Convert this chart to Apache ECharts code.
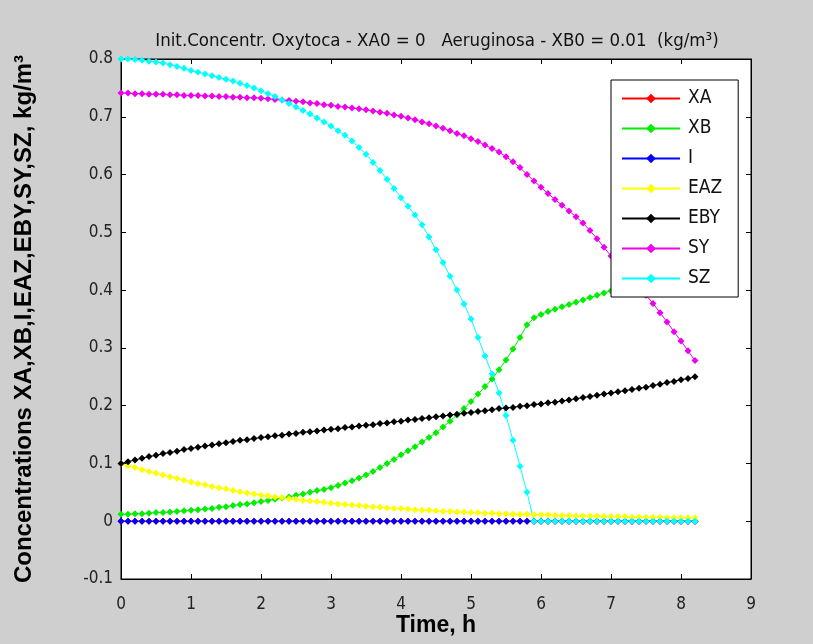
<!DOCTYPE html>
<html>
<head>
<meta charset="utf-8">
<title>Concentrations</title>
<script src="https://cdn.jsdelivr.net/npm/echarts@6/dist/echarts.min.js"></script>
<style>
  html, body { margin: 0; padding: 0; background: #cfcfcf; }
  #chart { width: 813px; height: 644px; }
</style>
</head>
<body>
<div id="chart"></div>
<script>
var times = [
  0.0, 0.1, 0.2, 0.3, 0.4, 0.5, 0.6, 0.7, 0.8, 0.9,
  1.0, 1.1, 1.2, 1.3, 1.4, 1.5, 1.6, 1.7, 1.8, 1.9,
  2.0, 2.1, 2.2, 2.3, 2.4, 2.5, 2.6, 2.7, 2.8, 2.9,
  3.0, 3.1, 3.2, 3.3, 3.4, 3.5, 3.6, 3.7, 3.8, 3.9,
  4.0, 4.1, 4.2, 4.3, 4.4, 4.5, 4.6, 4.7, 4.8, 4.9,
  5.0, 5.1, 5.2, 5.3, 5.4, 5.5, 5.6, 5.7, 5.8, 5.9,
  6.0, 6.1, 6.2, 6.3, 6.4, 6.5, 6.6, 6.7, 6.8, 6.9,
  7.0, 7.1, 7.2, 7.3, 7.4, 7.5, 7.6, 7.7, 7.8, 7.9,
  8.0, 8.1, 8.2
]

var xa = [
  0, 0, 0, 0, 0, 0, 0, 0, 0, 0,
  0, 0, 0, 0, 0, 0, 0, 0, 0, 0,
  0, 0, 0, 0, 0, 0, 0, 0, 0, 0,
  0, 0, 0, 0, 0, 0, 0, 0, 0, 0,
  0, 0, 0, 0, 0, 0, 0, 0, 0, 0,
  0, 0, 0, 0, 0, 0, 0, 0, 0, 0,
  0, 0, 0, 0, 0, 0, 0, 0, 0, 0,
  0, 0, 0, 0, 0, 0, 0, 0, 0, 0,
  0, 0, 0
]

var xb = [
  0.012, 0.012, 0.013, 0.013, 0.014, 0.015, 0.015, 0.016, 0.017, 0.018,
  0.019, 0.020, 0.021, 0.022, 0.024, 0.025, 0.027, 0.029, 0.030, 0.032,
  0.034, 0.036, 0.038, 0.040, 0.042, 0.045, 0.047, 0.050, 0.053, 0.055,
  0.058, 0.062, 0.066, 0.070, 0.075, 0.080, 0.086, 0.093, 0.100, 0.107,
  0.115, 0.122, 0.129, 0.137, 0.145, 0.153, 0.163, 0.173, 0.184, 0.195,
  0.207, 0.220, 0.233, 0.246, 0.262, 0.279, 0.298, 0.318, 0.340, 0.352,
  0.358, 0.363, 0.367, 0.371, 0.375, 0.379, 0.383, 0.387, 0.391, 0.395,
  0.399, 0.402, 0.405, 0.408, 0.411, 0.414, 0.417, 0.420, 0.423, 0.426,
  0.429, 0.432, 0.435
]

var inh = [
  0, 0, 0, 0, 0, 0, 0, 0, 0, 0,
  0, 0, 0, 0, 0, 0, 0, 0, 0, 0,
  0, 0, 0, 0, 0, 0, 0, 0, 0, 0,
  0, 0, 0, 0, 0, 0, 0, 0, 0, 0,
  0, 0, 0, 0, 0, 0, 0, 0, 0, 0,
  0, 0, 0, 0, 0, 0, 0, 0, 0, 0,
  0, 0, 0, 0, 0, 0, 0, 0, 0, 0,
  0, 0, 0, 0, 0, 0, 0, 0, 0, 0,
  0, 0, 0
]

var eaz = [
  0.100, 0.096, 0.093, 0.089, 0.086, 0.083, 0.080, 0.077, 0.074, 0.071,
  0.068, 0.065, 0.063, 0.060, 0.058, 0.056, 0.053, 0.051, 0.049, 0.047,
  0.045, 0.044, 0.042, 0.041, 0.039, 0.038, 0.036, 0.035, 0.034, 0.033,
  0.031, 0.030, 0.029, 0.028, 0.027, 0.026, 0.025, 0.024, 0.023, 0.022,
  0.022, 0.021, 0.020, 0.019, 0.019, 0.018, 0.017, 0.017, 0.016, 0.016,
  0.015, 0.015, 0.014, 0.014, 0.013, 0.013, 0.012, 0.012, 0.012, 0.011,
  0.011, 0.011, 0.010, 0.010, 0.010, 0.009, 0.009, 0.009, 0.009, 0.008,
  0.008, 0.008, 0.008, 0.007, 0.007, 0.007, 0.007, 0.007, 0.006, 0.006,
  0.006, 0.006, 0.006
]

var eby = [
  0.100, 0.103, 0.106, 0.109, 0.112, 0.114, 0.117, 0.119, 0.121, 0.124,
  0.126, 0.128, 0.130, 0.132, 0.134, 0.136, 0.138, 0.140, 0.141, 0.143,
  0.145, 0.146, 0.148, 0.149, 0.151, 0.152, 0.154, 0.155, 0.156, 0.158,
  0.159, 0.160, 0.162, 0.163, 0.165, 0.166, 0.167, 0.169, 0.170, 0.172,
  0.173, 0.175, 0.176, 0.178, 0.179, 0.181, 0.182, 0.184, 0.185, 0.187,
  0.188, 0.190, 0.191, 0.193, 0.195, 0.196, 0.197, 0.199, 0.200, 0.202,
  0.203, 0.205, 0.206, 0.208, 0.210, 0.212, 0.214, 0.216, 0.218, 0.220,
  0.222, 0.224, 0.226, 0.228, 0.230, 0.232, 0.235, 0.237, 0.240, 0.242,
  0.245, 0.247, 0.250
]

var sy = [
  0.741, 0.741, 0.740, 0.740, 0.739, 0.739, 0.739, 0.738, 0.738, 0.737,
  0.737, 0.737, 0.736, 0.736, 0.735, 0.735, 0.734, 0.734, 0.733, 0.733,
  0.732, 0.731, 0.730, 0.729, 0.728, 0.727, 0.726, 0.724, 0.723, 0.721,
  0.720, 0.718, 0.717, 0.715, 0.714, 0.712, 0.710, 0.708, 0.706, 0.703,
  0.701, 0.698, 0.695, 0.691, 0.688, 0.684, 0.680, 0.676, 0.671, 0.667,
  0.662, 0.657, 0.651, 0.645, 0.639, 0.631, 0.622, 0.612, 0.600, 0.589,
  0.578, 0.567, 0.557, 0.547, 0.537, 0.527, 0.516, 0.503, 0.489, 0.474,
  0.459, 0.445, 0.432, 0.418, 0.404, 0.391, 0.377, 0.361, 0.345, 0.328,
  0.312, 0.295, 0.278
]

var sz = [
  0.800, 0.800, 0.799, 0.798, 0.796, 0.795, 0.793, 0.790, 0.787, 0.784,
  0.780, 0.777, 0.774, 0.771, 0.768, 0.765, 0.762, 0.758, 0.754, 0.750,
  0.745, 0.740, 0.735, 0.729, 0.723, 0.717, 0.711, 0.705, 0.698, 0.691,
  0.684, 0.676, 0.668, 0.658, 0.647, 0.635, 0.621, 0.607, 0.592, 0.576,
  0.560, 0.545, 0.530, 0.513, 0.492, 0.470, 0.448, 0.424, 0.400, 0.376,
  0.350, 0.318, 0.286, 0.255, 0.222, 0.183, 0.140, 0.095, 0.050, 0.000,
  0, 0, 0, 0, 0, 0, 0, 0, 0, 0,
  0, 0, 0, 0, 0, 0, 0, 0, 0, 0,
  0, 0, 0
]

var seriesNames = ['XA', 'XB', 'I', 'EAZ', 'EBY', 'SY', 'SZ']
var seriesValues = [xa, xb, inh, eaz, eby, sy, sz]
var seriesColors = ['#ff0000', '#00ee00', '#0000ff', '#ffff00', '#000000', '#ee00ee', '#00ffff']

var font = "'Liberation Sans Narrow', 'DejaVu Sans Condensed', 'Liberation Sans', Arial, sans-serif"
var boldFont = "'Liberation Sans', Arial, sans-serif"

var chart = echarts.init(document.getElementById('chart'))

function pairs(values) {
  return times.map(function (t, i) { return [t, values[i]] })
}

var series = seriesNames.map(function (name, i) {
  return {
    name: name,
    type: 'line',
    data: pairs(seriesValues[i]),
    symbol: 'diamond',
    symbolSize: 7,
    showSymbol: true,
    color: seriesColors[i],
    lineStyle: { width: 1, color: seriesColors[i] },
    itemStyle: { color: seriesColors[i] },
    emphasis: { disabled: true }
  }
})

// MATLAB style box: ticks inside on all four sides, labels only bottom/left
var tickStyle = { inside: true, length: 5, lineStyle: { color: '#000' } }
var lineStyle = { onZero: false, lineStyle: { color: '#000', width: 1 } }

var option = {
  backgroundColor: '#cfcfcf',
  animation: false,
  title: {
    text: 'Init.Concentr. Oxytoca - XA0 = 0   Aeruginosa - XB0 = 0.01  (kg/m³)',
    left: 432,
    textAlign: 'center',
    top: 27,
    textStyle: { fontFamily: font, fontSize: 18.5, fontWeight: 'normal', color: '#111' }
  },
  legend: {
    data: seriesNames,
    orient: 'vertical',
    left: 611,
    top: 80,
    backgroundColor: '#ffffff',
    borderColor: '#000',
    borderWidth: 1,
    borderRadius: 0,
    padding: [9, 16, 9, 10],
    itemWidth: 58,
    itemHeight: 12,
    itemGap: 11,
    textStyle: { fontFamily: font, fontSize: 19, lineHeight: 19, color: '#111', padding: [0, 0, 0, 3] }
  },
  grid: {
    left: 121,
    right: 62,
    top: 59,
    bottom: 65,
    outerBoundsMode: 'none',
    containLabel: false,
    show: true,
    backgroundColor: '#ffffff',
    borderColor: '#000',
    borderWidth: 1
  },
  xAxis: [{
    type: 'value',
    min: 0,
    max: 9,
    interval: 1,
    name: 'Time, h',
    nameLocation: 'middle',
    nameGap: 35,
    nameMoveOverlap: false,
    nameTextStyle: { fontFamily: boldFont, fontSize: 23, fontWeight: 'bold', color: '#000' },
    axisLine: lineStyle,
    axisTick: tickStyle,
    axisLabel: { fontFamily: font, fontSize: 17, color: '#222', margin: 17 },
    splitLine: { show: false }
  }, {
    type: 'value',
    position: 'top',
    min: 0,
    max: 9,
    interval: 1,
    axisLine: lineStyle,
    axisTick: tickStyle,
    axisLabel: { show: false },
    splitLine: { show: false }
  }],
  yAxis: [{
    type: 'value',
    min: -0.1,
    max: 0.8,
    interval: 0.1,
    name: 'Concentrations XA,XB,I,EAZ,EBY,SY,SZ, kg/m³',
    nameLocation: 'middle',
    nameGap: 85,
    nameMoveOverlap: false,
    nameTextStyle: { fontFamily: boldFont, fontSize: 24, fontWeight: 'bold', color: '#000' },
    axisLine: lineStyle,
    axisTick: tickStyle,
    axisLabel: {
      fontFamily: font, fontSize: 17, color: '#222', margin: 8,
      formatter: function (v) { return String(Math.round(v * 10) / 10) }
    },
    splitLine: { show: false }
  }, {
    type: 'value',
    position: 'right',
    min: -0.1,
    max: 0.8,
    interval: 0.1,
    axisLine: lineStyle,
    axisTick: tickStyle,
    axisLabel: { show: false },
    splitLine: { show: false }
  }],
  series: series
}

chart.setOption(option)
</script>
</body>
</html>
